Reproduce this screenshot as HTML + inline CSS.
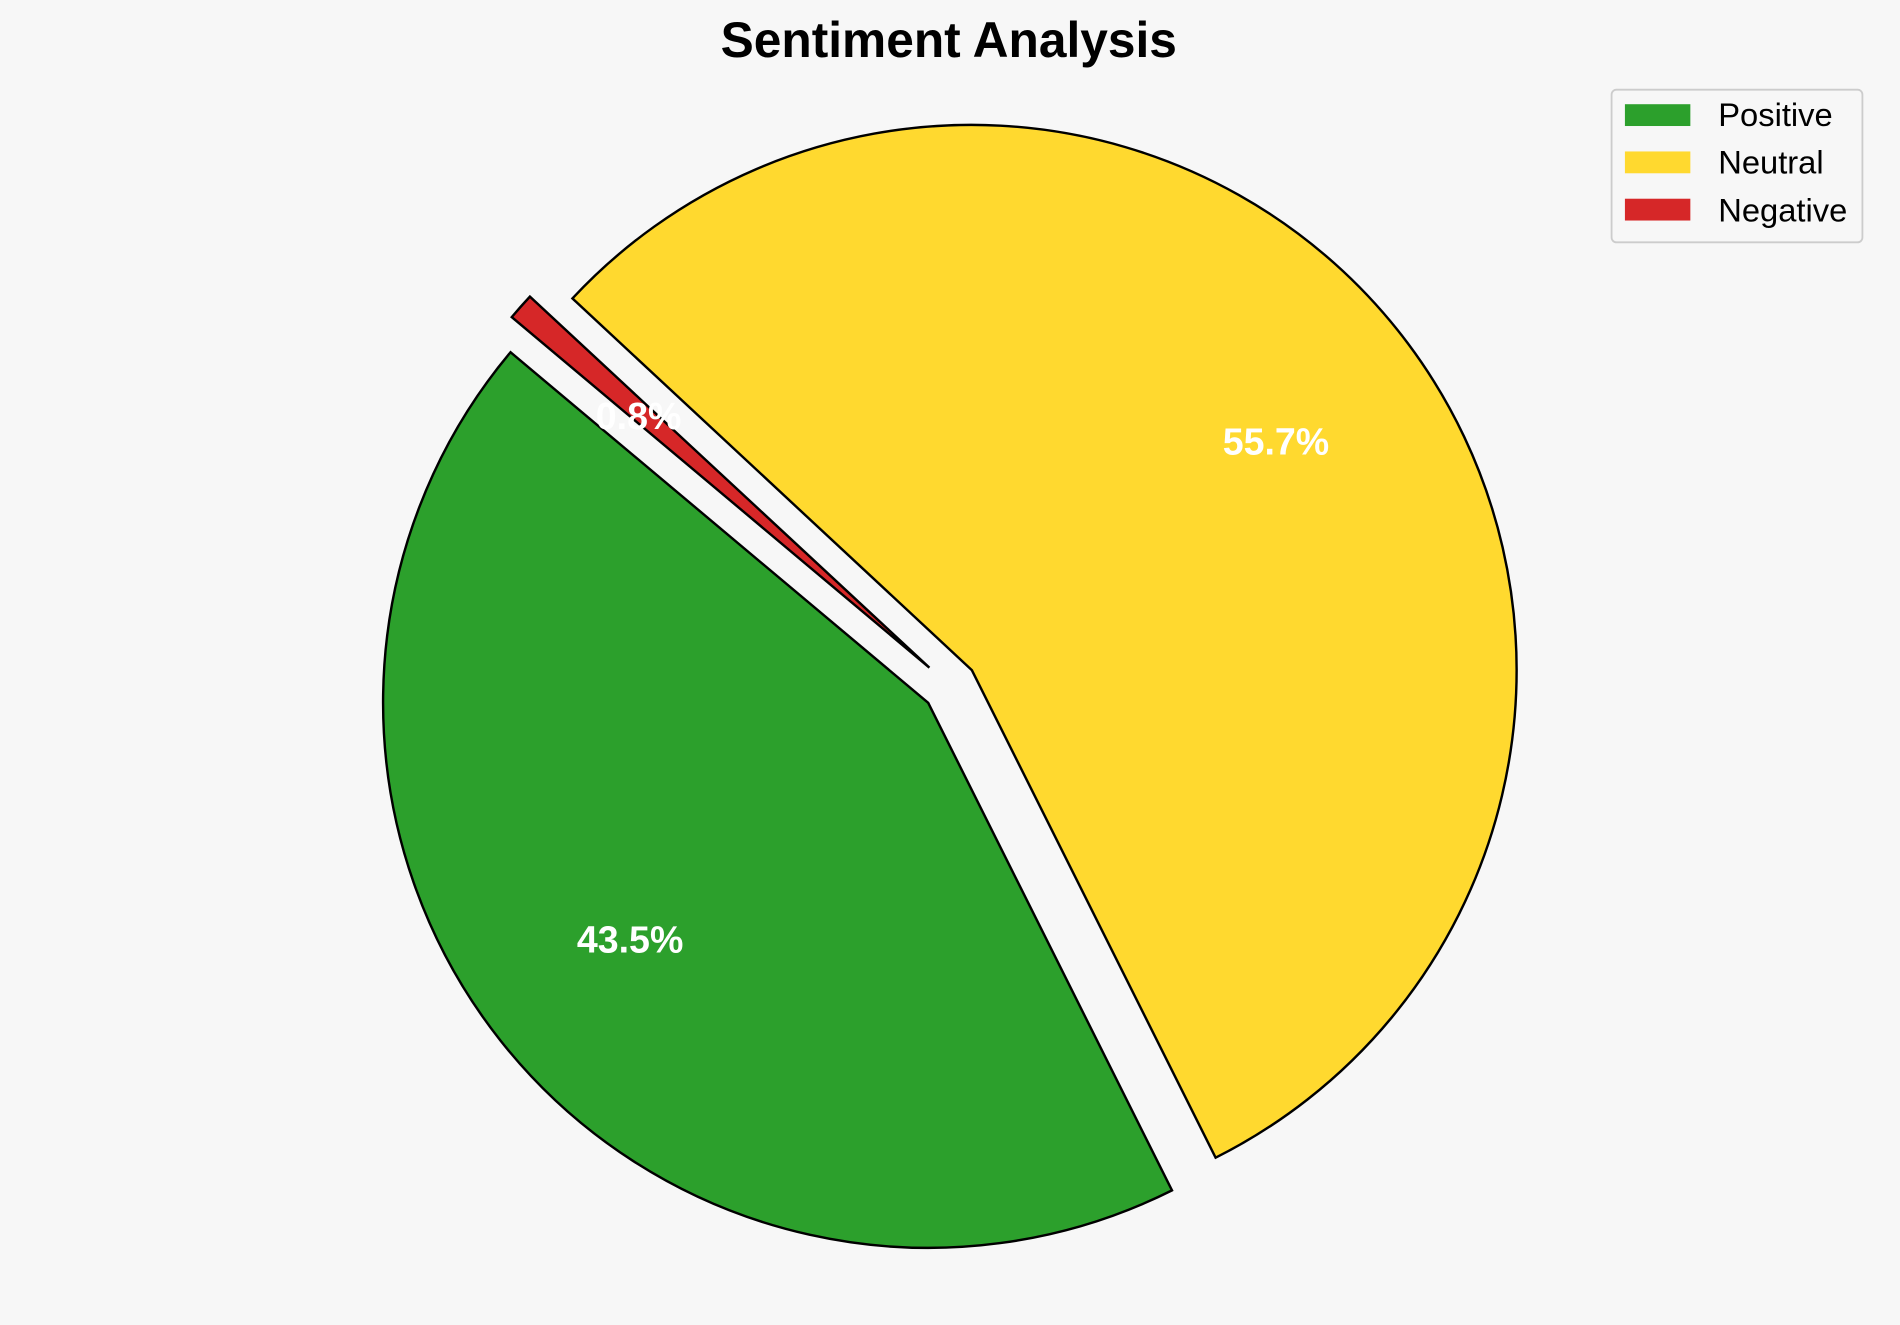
<!DOCTYPE html>
<html><head><style>
html,body{margin:0;padding:0;background:#f7f7f7;}
svg{display:block;}
text{font-family:"Liberation Sans",Arial,sans-serif;}
</style></head><body>
<svg width="1900" height="1325" viewBox="0 0 1568 1093.5" xmlns="http://www.w3.org/2000/svg">
<rect width="1568" height="1094" fill="#f7f7f7"/>
<text x="783" y="47" text-anchor="middle" font-size="41" font-weight="bold">Sentiment Analysis</text>
<path d="M766,580 L421.3,290.7 A450,450 0 0 0 967.2,982.4 Z" fill="#2ca02c" stroke="#000" stroke-width="2"/>
<path d="M802,553 L1003.2,955.4 A450,450 0 1 0 472.4,246.3 Z" fill="#ffd92f" stroke="#000" stroke-width="2"/>
<path d="M767,551 L437.3,244.8 A450,450 0 0 0 422.3,261.7 Z" fill="#d62728" stroke="#000" stroke-width="2"/>
<text x="1053" y="375" text-anchor="middle" font-size="31" font-weight="bold" fill="#fff">55.7%</text>
<text x="520" y="786" text-anchor="middle" font-size="31" font-weight="bold" fill="#fff">43.5%</text>
<text x="527" y="354" text-anchor="middle" font-size="31" font-weight="bold" fill="#fff">0.8%</text>
<rect x="1330" y="74" width="207" height="126" rx="4" fill="#f7f7f7" stroke="#ccc" stroke-width="1.5"/>
<rect x="1341" y="86" width="54" height="18" fill="#2ca02c"/>
<rect x="1341" y="125" width="54" height="18" fill="#ffd92f"/>
<rect x="1341" y="164" width="54" height="18" fill="#d62728"/>
<text x="1418" y="104" font-size="27">Positive</text>
<text x="1418" y="143" font-size="27">Neutral</text>
<text x="1418" y="183" font-size="27">Negative</text>
</svg>
</body></html>
